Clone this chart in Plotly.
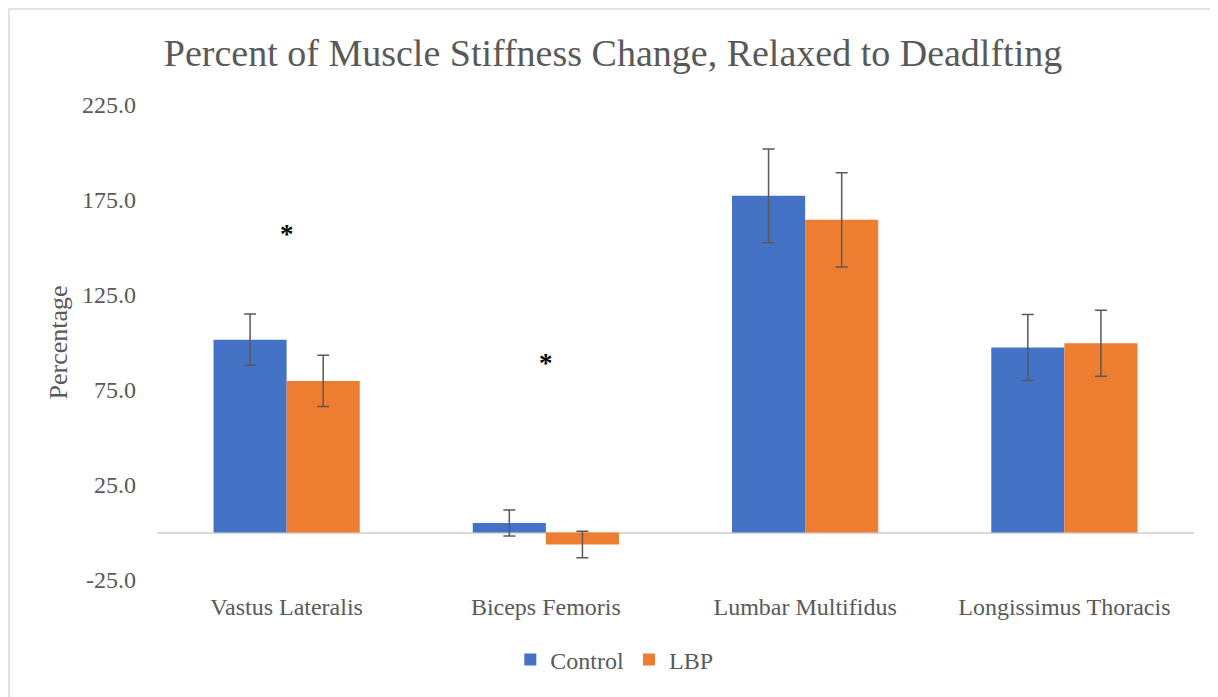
import plotly.graph_objects as go

categories = ["Vastus Lateralis", "Biceps Femoris", "Lumbar Multifidus", "Longissimus Thoracis"]
control_vals = [101.5, 5.0, 177.2, 97.4]
control_err = [13.5, 6.9, 24.7, 17.4]
lbp_vals = [79.8, -6.3, 164.6, 99.6]
lbp_err = [13.5, 7.0, 24.8, 17.4]
tick_vals = [-25, 25, 75, 125, 175, 225]
tick_text = ["-25.0", "25.0", "75.0", "125.0", "175.0", "225.0"]
star_cats = ["Vastus Lateralis", "Biceps Femoris"]
star_y = [157, 89]

FONT = "Liberation Serif"
GREY = "#595959"

W, H = 1210, 689
ML, MR, MT, MB = 149, 24, 97, 117
PW, PH = W - ML - MR, H - MT - MB

fig = go.Figure()
fig.add_trace(go.Bar(
    name="Control", x=categories, y=control_vals, marker_color="#4472C4",
    marker_line_width=0,
    error_y=dict(type="data", array=control_err, color=GREY, thickness=1.5, width=6),
))
fig.add_trace(go.Bar(
    name="LBP", x=categories, y=lbp_vals, marker_color="#ED7D31",
    marker_line_width=0,
    error_y=dict(type="data", array=lbp_err, color=GREY, thickness=1.5, width=6),
))

for c, yv in zip(star_cats, star_y):
    fig.add_annotation(x=c, y=yv, xref="x", yref="y", text="<b>*</b>", showarrow=False,
                       font=dict(family=FONT, size=27, color="#000000"))

fig.update_layout(
    width=W, height=H,
    paper_bgcolor="white", plot_bgcolor="white",
    margin=dict(l=ML, r=MR, t=MT, b=MB, autoexpand=False),
    barmode="group", bargap=0.436, bargroupgap=0,
    title=dict(text="Percent of Muscle Stiffness Change, Relaxed to Deadlfting",
               x=0.5, xanchor="center", y=1 - 45 / H, yanchor="middle",
               font=dict(family=FONT, size=38, color=GREY)),
    font=dict(family=FONT, color=GREY),
    legend=dict(orientation="h", x=0.441, xanchor="center", y=-(660 - 8 - MT - PH) / PH, yanchor="middle",
                font=dict(family=FONT, size=24, color=GREY), traceorder="normal",
                itemwidth=30),
    showlegend=True,
)
fig.update_xaxes(showline=False, showgrid=False, ticks="", tickfont=dict(family=FONT, size=24, color=GREY),
                 zeroline=False, ticklabelstandoff=10)
fig.update_yaxes(range=[-25, 225], tickvals=tick_vals, ticktext=tick_text, showgrid=False,
                 zeroline=True, zerolinecolor="#D9D9D9", zerolinewidth=1.5,
                 showline=False, ticks="", ticklabelstandoff=20,
                 tickfont=dict(family=FONT, size=24, color=GREY),
                 title=dict(text="Percentage", font=dict(family=FONT, size=26, color=GREY), standoff=6))
fig.add_shape(type="rect", xref="paper", yref="paper",
              x0=-(ML - 1) / PW, x1=1 + (MR + 20) / PW, y0=-(MB + 20) / PH, y1=1 + (MT - 1) / PH,
              line=dict(color="#D9D9D9", width=1.5), fillcolor="rgba(0,0,0,0)")

fig.write_html("out.html")
